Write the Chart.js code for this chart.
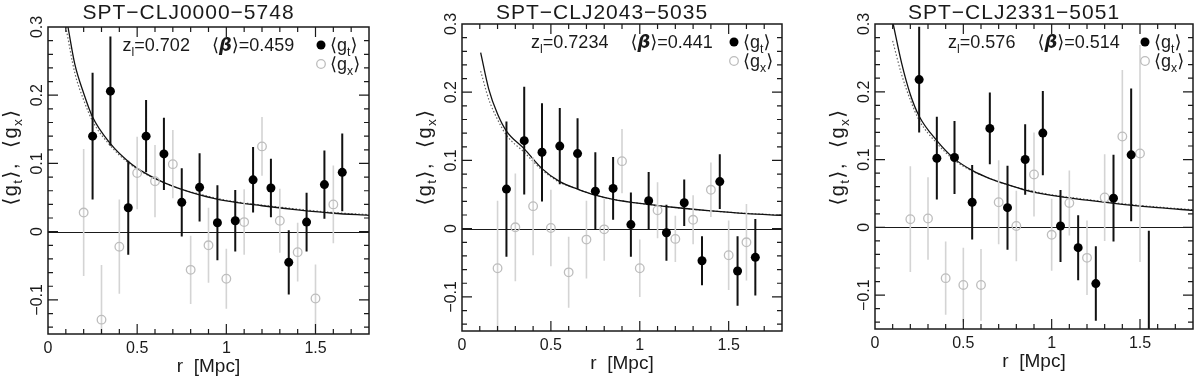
<!DOCTYPE html>
<html lang="en">
<head>
<meta charset="UTF-8">
<title>Shear profiles</title>
<script src="https://cdn.jsdelivr.net/npm/chart.js@4.4.1/dist/chart.umd.min.js"></script>
<style>
body { margin: 0; background: #fff; }
.row { display: flex; width: 1200px; height: 387px; }
.panel { width: 400px; height: 387px; }
</style>
</head>
<body>
<div class="row">
<div class="panel"><canvas id="c1" width="400" height="387"></canvas></div>
<div class="panel"><canvas id="c2" width="400" height="387"></canvas></div>
<div class="panel"><canvas id="c3" width="400" height="387"></canvas></div>
</div>
<script>
// radial bins (Mpc)
const rGt = [0.25, 0.35, 0.45, 0.55, 0.65, 0.75, 0.85, 0.95, 1.05, 1.15, 1.25, 1.35, 1.45, 1.55, 1.65];
const rGx = [0.2, 0.3, 0.4, 0.5, 0.6, 0.7, 0.8, 0.9, 1.0, 1.1, 1.2, 1.3, 1.4, 1.5, 1.6];
const modelTail = [0.15, 0.2, 0.25, 0.35, 0.45, 0.55, 0.65, 0.75, 0.85, 1.0, 1.2, 1.4, 1.6, 1.8];

// SPT-CLJ0000-5748
const p1Gt    = [0.140, 0.206, 0.035, 0.140, 0.114, 0.043, 0.065, 0.013, 0.016, 0.076, 0.064, -0.045, 0.014, 0.069, 0.087];
const p1GtErr = [0.093, 0.080, 0.069, 0.053, 0.053, 0.050, 0.050, 0.055, 0.045, 0.048, 0.043, 0.047, 0.043, 0.050, 0.057];
const p1Gx    = [0.028, -0.129, -0.022, 0.086, 0.074, 0.099, -0.056, -0.020, -0.069, 0.014, 0.125, 0.016, -0.030, -0.098, 0.040];
const p1GxErr = [0.093, 0.080, 0.069, 0.053, 0.053, 0.050, 0.050, 0.055, 0.044, 0.048, 0.043, 0.047, 0.043, 0.050, 0.057];
const p1SolidR = [0.112, ...modelTail];
const p1Solid  = [0.300, 0.246, 0.203, 0.168, 0.129, 0.103, 0.085, 0.072, 0.062, 0.054, 0.045, 0.038, 0.032, 0.027, 0.024];
const p1DotR   = [0.100, ...modelTail];
const p1Dot    = [0.300, 0.233, 0.193, 0.162, 0.126, 0.101, 0.084, 0.072, 0.062, 0.055, 0.046, 0.039, 0.033, 0.028, 0.025];

// SPT-CLJ2043-5035
const p2Gt    = [0.058, 0.129, 0.112, 0.121, 0.110, 0.055, 0.059, 0.006, 0.041, -0.006, 0.038, -0.047, 0.069, -0.062, -0.042];
const p2GtErr = [0.099, 0.079, 0.072, 0.056, 0.052, 0.057, 0.046, 0.047, 0.042, 0.041, 0.034, 0.036, 0.040, 0.051, 0.056];
const p2Gx    = [-0.058, 0.002, 0.033, 0.001, -0.064, -0.016, -0.001, 0.099, -0.058, 0.027, -0.015, 0.013, 0.057, -0.039, -0.020];
const p2GxErr = [0.099, 0.079, 0.072, 0.056, 0.052, 0.057, 0.046, 0.047, 0.042, 0.041, 0.034, 0.036, 0.040, 0.051, 0.056];
const p2SolidR = [0.105, ...modelTail];
const p2Solid  = [0.258, 0.205, 0.168, 0.143, 0.117, 0.088, 0.069, 0.058, 0.049, 0.043, 0.037, 0.031, 0.026, 0.022, 0.0195];
const p2DotR   = [0.105, ...modelTail];
const p2Dot    = [0.231, 0.190, 0.160, 0.137, 0.112, 0.086, 0.068, 0.058, 0.049, 0.043, 0.037, 0.031, 0.026, 0.0225, 0.020];

// SPT-CLJ2331-5051
const p3Gt    = [0.218, 0.102, 0.103, 0.037, 0.146, 0.029, 0.100, 0.139, 0.002, -0.030, -0.083, 0.043, 0.107, -0.165];
const p3GtErr = [0.078, 0.061, 0.054, 0.055, 0.053, 0.062, 0.052, 0.062, 0.053, 0.048, 0.055, 0.064, 0.098, 0.160];
const p3Gx    = [0.012, 0.013, -0.075, -0.085, -0.085, 0.037, 0.002, 0.078, -0.011, 0.036, -0.045, 0.044, 0.134, 0.109];
const p3GxErr = [0.078, 0.061, 0.054, 0.055, 0.053, 0.062, 0.052, 0.062, 0.053, 0.048, 0.055, 0.064, 0.098, 0.160];
const p3SolidR = [0.103, ...modelTail];
const p3Solid  = [0.300, 0.243, 0.196, 0.164, 0.128, 0.101, 0.084, 0.072, 0.063, 0.055, 0.047, 0.040, 0.034, 0.029, 0.025];
const p3DotR   = [0.100, ...modelTail];
const p3Dot    = [0.275, 0.226, 0.188, 0.158, 0.124, 0.099, 0.083, 0.072, 0.063, 0.056, 0.048, 0.041, 0.035, 0.030, 0.026];

const titles = ['SPT\u2212CLJ0000\u22125748', 'SPT\u2212CLJ2043\u22125035', 'SPT\u2212CLJ2331\u22125051'];
const zLens  = ['0.702', '0.7234', '0.576'];
const betas  = ['0.459', '0.441', '0.514'];

const FONT = '"Liberation Sans", "DejaVu Sans", sans-serif';
const BETA_FONT = 'italic bold 18px "DejaVu Sans", sans-serif';
const INK = '#1a1a1a';

// text with subscripts; parts = [[text, isSub, optionalFont], ...]
function partFont(p, size) {
  return p[2] || ((p[1] ? size * 0.68 : size) + 'px ' + FONT);
}
function richWidth(ctx, parts, size) {
  let w = 0;
  parts.forEach(p => {
    ctx.font = partFont(p, size);
    w += ctx.measureText(p[0]).width;
  });
  return w;
}
function drawRich(ctx, parts, x, y, size) {
  ctx.textAlign = 'left';
  ctx.textBaseline = 'alphabetic';
  parts.forEach(p => {
    ctx.font = partFont(p, size);
    ctx.fillText(p[0], x, p[1] ? y + size * 0.25 : y);
    x += ctx.measureText(p[0]).width;
  });
  return x;
}

function errorBars(xs, vals, errs) {
  const pts = [];
  xs.forEach((x, i) => {
    pts.push({x: x, y: vals[i] - errs[i]});
    pts.push({x: x, y: vals[i] + errs[i]});
    pts.push({x: x, y: null});
  });
  return pts;
}
function pairs(xs, ys) {
  return xs.map((x, i) => ({x: x, y: ys[i]}));
}

const framePlugin = {
  id: 'frame',
  beforeDatasetsDraw(chart) {
    const {ctx, chartArea: a, scales: {y}} = chart;
    ctx.save();
    ctx.strokeStyle = INK;
    ctx.lineWidth = 1.2;
    const y0 = Math.round(y.getPixelForValue(0)) + 0.5;
    ctx.beginPath(); ctx.moveTo(a.left, y0); ctx.lineTo(a.right, y0); ctx.stroke();
    ctx.restore();
  },
  afterDraw(chart) {
    const {ctx, chartArea: a, scales: {x, y}} = chart;
    const k = chart.options.plugins.frame.k;
    ctx.save();
    ctx.strokeStyle = INK;
    ctx.fillStyle = INK;
    ctx.lineWidth = 1.5;
    ctx.strokeRect(a.left, a.top, a.right - a.left, a.bottom - a.top);
    ctx.lineWidth = 1.2;
    ctx.beginPath();
    for (let i = 1; i <= 17; i++) {
      const px = x.getPixelForValue(i / 10);
      const len = (i % 5 === 0) ? 10 : 5;
      ctx.moveTo(px, a.bottom); ctx.lineTo(px, a.bottom - len);
      ctx.moveTo(px, a.top); ctx.lineTo(px, a.top + len);
    }
    for (let i = -7; i <= 14; i++) {
      const py = y.getPixelForValue(i / 50);
      const len = (i % 5 === 0) ? 10 : 5;
      ctx.moveTo(a.left, py); ctx.lineTo(a.left + len, py);
      ctx.moveTo(a.right, py); ctx.lineTo(a.right - len, py);
    }
    ctx.stroke();

    // tick labels
    ctx.font = '16px ' + FONT;
    ctx.textAlign = 'center';
    ctx.textBaseline = 'middle';
    ['0', '0.5', '1', '1.5'].forEach((t, i) => {
      ctx.fillText(t, x.getPixelForValue(i * 0.5), a.bottom + 15);
    });
    ['\u22120.1', '0', '0.1', '0.2', '0.3'].forEach((t, i) => {
      ctx.save();
      ctx.translate(a.left - 10, y.getPixelForValue(-0.1 + i * 0.1));
      ctx.rotate(-Math.PI / 2);
      ctx.fillText(t, 0, 0);
      ctx.restore();
    });

    // axis titles
    ctx.font = '19px ' + FONT;
    ctx.fillText('r  [Mpc]', (a.left + a.right) / 2, a.bottom + 33);
    const yl = [['\u27e8g', 0], ['t', 1], ['\u27e9,  \u27e8g', 0], ['x', 1], ['\u27e9', 0]];
    ctx.save();
    ctx.letterSpacing = '1.5px';
    const yw = richWidth(ctx, yl, 20);
    ctx.translate(a.left - 31, 157);
    ctx.rotate(-Math.PI / 2);
    drawRich(ctx, yl, -yw / 2, 0, 20);
    ctx.restore();

    // panel title
    ctx.save();
    ctx.font = '21px ' + FONT;
    ctx.letterSpacing = '1px';
    ctx.textAlign = 'center';
    ctx.textBaseline = 'middle';
    ctx.fillText(titles[k], (a.left + a.right) / 2 - 20, 13);
    ctx.restore();

    // annotation: z_l and <beta>
    const ay = a.top + 24;
    const zPart = [['z', 0], ['l', 1], ['=' + zLens[k], 0]];
    const bPart = [['\u27e8', 0], ['\u03b2', 0, BETA_FONT], ['\u27e9=' + betas[k], 0]];
    const gap = 22;
    const tot = richWidth(ctx, zPart, 18) + gap + richWidth(ctx, bPart, 18);
    const ax = drawRich(ctx, zPart, (a.left + a.right) / 2 - tot / 2, ay, 18);
    drawRich(ctx, bPart, ax + gap, ay, 18);

    // legend
    const lx = a.right - 48;
    ctx.fillStyle = '#000';
    ctx.beginPath(); ctx.arc(lx, a.top + 18, 4.5, 0, Math.PI * 2); ctx.fill();
    ctx.strokeStyle = '#bdbdbd';
    ctx.lineWidth = 1.3;
    ctx.beginPath(); ctx.arc(lx, a.top + 37, 4.3, 0, Math.PI * 2); ctx.stroke();
    ctx.fillStyle = INK;
    drawRich(ctx, [['\u27e8g', 0], ['t', 1], ['\u27e9', 0]], lx + 9, a.top + 24, 18);
    drawRich(ctx, [['\u27e8g', 0], ['x', 1], ['\u27e9', 0]], lx + 9, a.top + 43, 18);
    ctx.restore();
  }
};

function makePanel(id, k, box, d) {
  new Chart(document.getElementById(id), {
    type: 'scatter',
    data: {
      datasets: [
        {data: pairs(rGt, d.gt), order: 0, pointRadius: 4.5, pointBackgroundColor: '#000', pointBorderColor: '#000', pointBorderWidth: 0},
        {data: errorBars(rGt, d.gt, d.gtErr), order: 1, showLine: true, spanGaps: false, borderColor: '#111', borderWidth: 2, pointRadius: 0, clip: 0},
        {data: pairs(rGx, d.gx), order: 2, pointRadius: 4.3, pointBackgroundColor: 'rgba(255,255,255,0)', pointBorderColor: '#bdbdbd', pointBorderWidth: 1.3},
        {data: errorBars(rGx, d.gx, d.gxErr), order: 3, showLine: true, spanGaps: false, borderColor: '#d4d4d4', borderWidth: 1.6, pointRadius: 0, clip: 0},
        {data: pairs(d.solidR, d.solid), order: 4, showLine: true, borderColor: '#111', borderWidth: 1.3, pointRadius: 0, cubicInterpolationMode: 'monotone', clip: 0},
        {data: pairs(d.dotR, d.dot), order: 5, showLine: true, borderColor: '#666', borderWidth: 1.2, borderDash: [1.5, 2], pointRadius: 0, cubicInterpolationMode: 'monotone', clip: 0}
      ]
    },
    options: {
      responsive: false,
      animation: false,
      events: [],
      layout: {padding: {left: box[0], top: box[1], right: 400 - box[2], bottom: 387 - box[3]}},
      scales: {
        x: {type: 'linear', min: 0, max: 1.8, display: false},
        y: {type: 'linear', min: -0.15, max: 0.3, display: false}
      },
      plugins: {legend: {display: false}, tooltip: {enabled: false}, frame: {k: k}}
    },
    plugins: [framePlugin]
  });
}

makePanel('c1', 0, [48, 27, 369, 334], {gt: p1Gt, gtErr: p1GtErr, gx: p1Gx, gxErr: p1GxErr, solidR: p1SolidR, solid: p1Solid, dotR: p1DotR, dot: p1Dot});
makePanel('c2', 1, [62, 24, 382, 331], {gt: p2Gt, gtErr: p2GtErr, gx: p2Gx, gxErr: p2GxErr, solidR: p2SolidR, solid: p2Solid, dotR: p2DotR, dot: p2Dot});
makePanel('c3', 2, [75, 24, 393, 329], {gt: p3Gt, gtErr: p3GtErr, gx: p3Gx, gxErr: p3GxErr, solidR: p3SolidR, solid: p3Solid, dotR: p3DotR, dot: p3Dot});
</script>
</body>
</html>
